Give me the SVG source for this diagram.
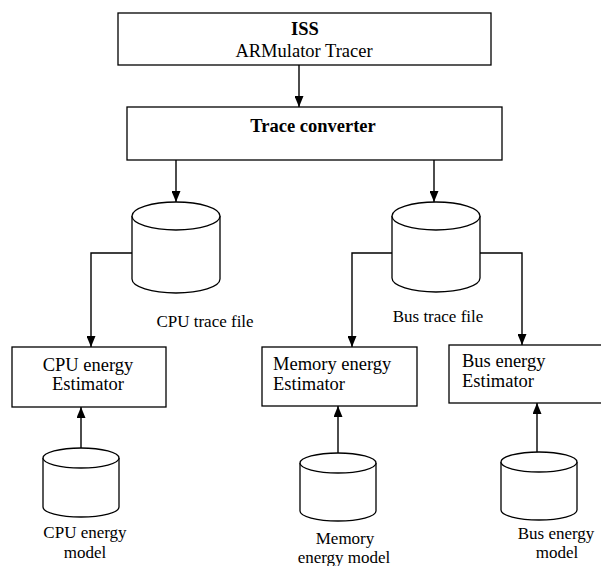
<svg xmlns="http://www.w3.org/2000/svg" width="601" height="566" viewBox="0 0 601 566" font-family="'Liberation Serif', 'DejaVu Serif', serif">
  <style>
    .box { fill: #fff; stroke: #000; stroke-width: 1.3; }
    .cyl { fill: #fff; stroke: #000; stroke-width: 1.3; }
    .wire { fill: none; stroke: #000; stroke-width: 1.4; }
    text { fill: #000; }
    .b { font-weight: bold; font-size: 18.5px; }
    .n { font-size: 18.5px; }
    .s { font-size: 17px; }
    .c { text-anchor: middle; }
  </style>
  <defs>
    <marker id="arrow" viewBox="0 0 10 10" refX="10" refY="5" markerWidth="11" markerHeight="9" markerUnits="userSpaceOnUse" orient="auto" preserveAspectRatio="none">
      <path d="M0,0 L10,5 L0,10 Z" fill="#000"/>
    </marker>
  </defs>

  <!-- connectors -->
  <g id="connectors" class="wire">
    <line x1="299" y1="65" x2="299" y2="107" marker-end="url(#arrow)"/>
    <line x1="176" y1="160" x2="176" y2="202" marker-end="url(#arrow)"/>
    <line x1="434" y1="160" x2="434" y2="202" marker-end="url(#arrow)"/>
    <polyline points="132,253 91,253 91,347" marker-end="url(#arrow)"/>
    <polyline points="392,253 352,253 352,347" marker-end="url(#arrow)"/>
    <polyline points="480,253 522,253 522,345" marker-end="url(#arrow)"/>
    <line x1="81" y1="448" x2="81" y2="407" marker-end="url(#arrow)"/>
    <line x1="338" y1="453" x2="338" y2="406" marker-end="url(#arrow)"/>
    <line x1="537" y1="452" x2="537" y2="403" marker-end="url(#arrow)"/>
  </g>

  <g id="iss">
    <rect class="box" x="118" y="13" width="373" height="52"/>
    <text class="b c" x="305" y="35">ISS</text>
    <text class="n c" x="304" y="57">ARMulator Tracer</text>
  </g>

  <g id="trace-converter">
    <rect class="box" x="127" y="107" width="375" height="53"/>
    <text class="b c" x="313" y="132">Trace converter</text>
  </g>

  <g id="cpu-trace-file">
    <path class="cyl" d="M132,216 L132,279 A44,14 0 0 0 220,279 L220,216"/>
    <ellipse class="cyl" cx="176" cy="216" rx="44" ry="14"/>
    <text class="s c" x="205" y="327">CPU trace file</text>
  </g>

  <g id="bus-trace-file">
    <path class="cyl" d="M392,216 L392,278 A44,14 0 0 0 480,278 L480,216"/>
    <ellipse class="cyl" cx="436" cy="216" rx="44" ry="14"/>
    <text class="s c" x="438" y="322">Bus trace file</text>
  </g>

  <g id="cpu-estimator">
    <rect class="box" x="12" y="347" width="154" height="60"/>
    <text class="n c" x="88" y="371">CPU energy</text>
    <text class="n c" x="88" y="390">Estimator</text>
  </g>

  <g id="memory-estimator">
    <rect class="box" x="262" y="347" width="155" height="59"/>
    <text class="n" x="273" y="370">Memory energy</text>
    <text class="n" x="273" y="390">Estimator</text>
  </g>

  <g id="bus-estimator">
    <rect class="box" x="449" y="345" width="165" height="58"/>
    <text class="n" x="462" y="367">Bus energy</text>
    <text class="n" x="462" y="387">Estimator</text>
  </g>

  <g id="cpu-energy-model">
    <path class="cyl" d="M43,458 L43,507 A38,10 0 0 0 119,507 L119,458"/>
    <ellipse class="cyl" cx="81" cy="458" rx="38" ry="10"/>
    <text class="s c" x="85" y="538">CPU energy</text>
    <text class="s c" x="85" y="558">model</text>
  </g>

  <g id="memory-energy-model">
    <path class="cyl" d="M300,463 L300,511 A38,10 0 0 0 376,511 L376,463"/>
    <ellipse class="cyl" cx="338" cy="463" rx="38" ry="10"/>
    <text class="s c" x="345" y="544">Memory</text>
    <text class="s c" x="344" y="563">energy model</text>
  </g>

  <g id="bus-energy-model">
    <path class="cyl" d="M501,462 L501,510 A38,10 0 0 0 577,510 L577,462"/>
    <ellipse class="cyl" cx="539" cy="462" rx="38" ry="10"/>
    <text class="s c" x="556" y="539">Bus energy</text>
    <text class="s c" x="557" y="558">model</text>
  </g>
</svg>
